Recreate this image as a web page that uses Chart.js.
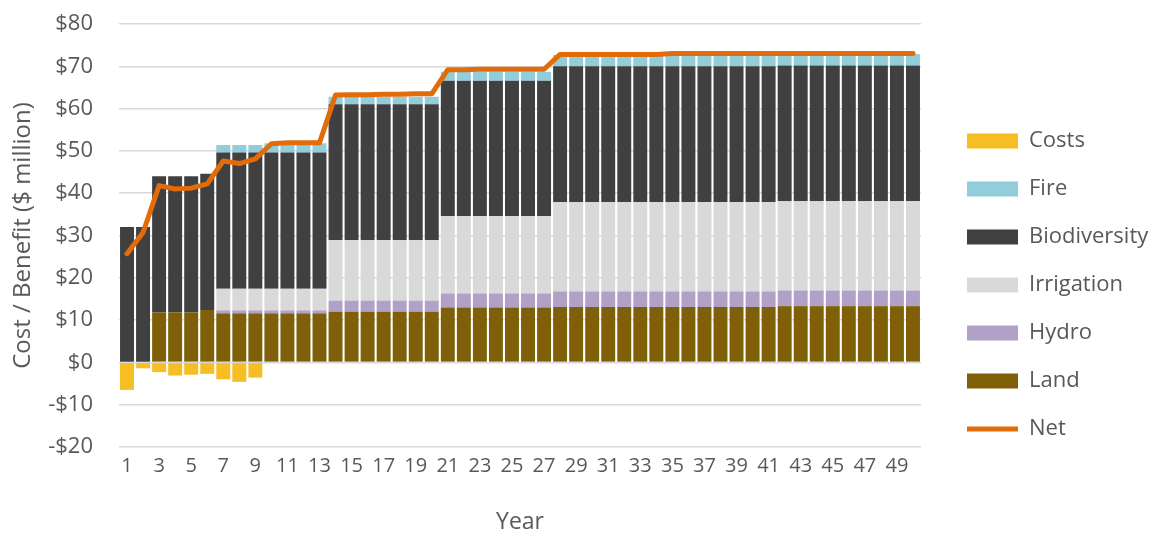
<!DOCTYPE html>
<html>
<head>
<meta charset="utf-8">
<script src="https://cdn.jsdelivr.net/npm/chart.js@4/dist/chart.umd.min.js"></script>
<style>
	html, body { margin: 0; padding: 0; background: #ffffff; }
	#wrap { width: 1153px; height: 534px; position: relative; }
</style>
</head>
<body>
<div id="wrap"><canvas id="chartCostBenefit"></canvas></div>
<script>
// Categories: years 1..50
var years = [1, 2, 3, 4, 5, 6, 7, 8, 9, 10, 11, 12, 13, 14, 15, 16, 17, 18, 19, 20,
	21, 22, 23, 24, 25, 26, 27, 28, 29, 30, 31, 32, 33, 34, 35, 36, 37, 38, 39, 40,
	41, 42, 43, 44, 45, 46, 47, 48, 49, 50];

// Series values ($ million)
var costs = [-6.5, -1.4, -2.3, -3.1, -2.9, -2.7, -4.0, -4.6, -3.6, 0, 0, 0, 0, 0, 0, 0, 0, 0, 0, 0,
	0, 0, 0, 0, 0, 0, 0, 0, 0, 0, 0, 0, 0, 0, 0, 0, 0, 0, 0, 0,
	0, 0, 0, 0, 0, 0, 0, 0, 0, 0];
var fire = [0, 0, 0, 0, 0, 0, 1.8, 1.8, 1.8, 2.2, 2.2, 2.2, 2.2, 1.8, 1.8, 1.8, 1.8, 1.8, 1.8, 1.8,
	2.1, 2.1, 2.1, 2.1, 2.1, 2.1, 2.1, 2.7, 2.7, 2.7, 2.7, 2.7, 2.7, 2.7, 2.7, 2.7, 2.7, 2.7, 2.7, 2.7,
	2.7, 2.7, 2.7, 2.7, 2.7, 2.7, 2.7, 2.7, 2.7, 2.7];
var biodiversity = [32.0, 32.0, 32.2, 32.2, 32.2, 32.2, 32.2, 32.2, 32.2, 32.2, 32.2, 32.2, 32.2, 32.1, 32.1, 32.1, 32.1, 32.1, 32.1, 32.1,
	32.0, 32.0, 32.0, 32.0, 32.0, 32.0, 32.0, 32.1, 32.1, 32.1, 32.1, 32.1, 32.1, 32.1, 32.1, 32.1, 32.1, 32.1, 32.1, 32.1,
	32.1, 32.1, 32.1, 32.1, 32.1, 32.1, 32.1, 32.1, 32.1, 32.1];
var irrigation = [0, 0, 0, 0, 0, 0, 5.1, 5.1, 5.1, 5.1, 5.1, 5.1, 5.1, 14.3, 14.3, 14.3, 14.3, 14.3, 14.3, 14.3,
	18.3, 18.3, 18.3, 18.3, 18.3, 18.3, 18.3, 21.1, 21.1, 21.1, 21.1, 21.1, 21.1, 21.1, 21.1, 21.1, 21.1, 21.1, 21.1, 21.1,
	21.1, 21.1, 21.1, 21.1, 21.1, 21.1, 21.1, 21.1, 21.1, 21.1];
var hydro = [0, 0, 0, 0, 0, 0, 0.7, 0.7, 0.7, 0.7, 0.7, 0.7, 0.7, 2.6, 2.6, 2.6, 2.6, 2.6, 2.6, 2.6,
	3.3, 3.3, 3.3, 3.3, 3.3, 3.3, 3.3, 3.7, 3.7, 3.7, 3.7, 3.7, 3.7, 3.7, 3.7, 3.7, 3.7, 3.7, 3.7, 3.7,
	3.7, 3.7, 3.7, 3.7, 3.7, 3.7, 3.7, 3.7, 3.7, 3.7];
var land = [0, 0, 11.8, 11.8, 11.8, 12.4, 11.6, 11.6, 11.6, 11.6, 11.6, 11.6, 11.6, 12.0, 12.0, 12.0, 12.0, 12.0, 12.0, 12.0,
	13.0, 13.0, 13.0, 13.0, 13.0, 13.0, 13.0, 13.1, 13.1, 13.1, 13.1, 13.1, 13.1, 13.1, 13.1, 13.1, 13.1, 13.1, 13.1, 13.1,
	13.1, 13.3, 13.3, 13.3, 13.3, 13.3, 13.3, 13.3, 13.3, 13.3];
var net = [25.7, 30.7, 41.8, 41.0, 41.2, 42.2, 47.6, 47.0, 48.1, 51.7, 51.9, 51.9, 51.9, 63.2, 63.3, 63.3, 63.4, 63.4, 63.5, 63.5,
	69.2, 69.2, 69.3, 69.3, 69.3, 69.3, 69.3, 72.8, 72.8, 72.8, 72.8, 72.8, 72.8, 72.8, 73.0, 73.0, 73.0, 73.0, 73.0, 73.0,
	73.0, 73.0, 73.0, 73.0, 73.0, 73.0, 73.0, 73.0, 73.0, 73.0];

// Y axis tick range
var yMin = -20;
var yMax = 80;
var yStep = 10;

var legendOrder = ['Costs', 'Fire', 'Biodiversity', 'Irrigation', 'Hydro', 'Land', 'Net'];

var textColor = '#595959';
var fontFamily = "'Open Sans', 'Noto Sans', sans-serif";

function barSet(label, data, color) {
	return {
		type: 'bar',
		label: label,
		data: data,
		backgroundColor: color,
		borderWidth: 0,
		stack: 'benefit',
		pointStyle: 'rect',
		barPercentage: 1,
		categoryPercentage: 0.87,
		order: 2
	};
}

var ctx = document.getElementById('chartCostBenefit').getContext('2d');
new Chart(ctx, {
	data: {
		labels: years,
		datasets: [
			barSet('Land', land, '#7f6009'),
			barSet('Hydro', hydro, '#b2a1c7'),
			barSet('Irrigation', irrigation, '#d9d9d9'),
			barSet('Biodiversity', biodiversity, '#404040'),
			barSet('Fire', fire, '#92cddc'),
			barSet('Costs', costs, '#f6be23'),
			{
				type: 'line',
				label: 'Net',
				data: net,
				borderColor: '#e36c0a',
				backgroundColor: '#e36c0a',
				borderWidth: 5,
				borderCapStyle: 'round',
				borderJoinStyle: 'round',
				pointRadius: 0,
				pointHoverRadius: 0,
				pointStyle: 'line',
				tension: 0,
				stack: 'net',
				order: 1
			}
		]
	},
	options: {
		responsive: true,
		maintainAspectRatio: false,
		animation: false,
		layout: {
			padding: { top: 24, right: 0, bottom: 0, left: 0 }
		},
		plugins: {
			legend: {
				display: true,
				position: 'right',
				align: 'center',
				maxWidth: 212,
				// blank title only nudges the legend items down a little
				title: {
					display: true,
					text: ' ',
					font: { size: 10 },
					padding: 0
				},
				labels: {
					usePointStyle: true,
					pointStyleWidth: 51,
					boxHeight: 15,
					padding: 26,
					color: textColor,
					font: { family: fontFamily, size: 22 },
					sort: function(a, b) {
						return legendOrder.indexOf(a.text) - legendOrder.indexOf(b.text);
					}
				}
			},
			tooltip: { enabled: false }
		},
		scales: {
			x: {
				stacked: true,
				grid: { display: false, drawTicks: false },
				border: { display: false },
				afterFit: function(scale) {
					scale.height = 87;
				},
				title: {
					display: true,
					text: 'Year',
					color: textColor,
					font: { family: fontFamily, size: 23, lineHeight: 1 },
					padding: { top: 0, bottom: 0 }
				},
				ticks: {
					autoSkip: false,
					maxRotation: 0,
					minRotation: 0,
					padding: 7,
					color: textColor,
					font: { family: fontFamily, size: 20 },
					callback: function(value, index) {
						return index % 2 === 0 ? String(years[index]) : '';
					}
				}
			},
			y: {
				stacked: true,
				min: yMin,
				max: yMax,
				grid: {
					color: '#d9d9d9',
					lineWidth: 1.5,
					drawTicks: true,
					tickLength: 24,
					tickColor: 'rgba(0,0,0,0)'
				},
				border: { display: false },
				afterFit: function(scale) {
					scale.width = 119;
				},
				title: {
					display: true,
					text: 'Cost / Benefit ($ million)',
					color: textColor,
					font: { family: fontFamily, size: 24 },
					padding: { top: 9, bottom: 0 }
				},
				ticks: {
					stepSize: yStep,
					padding: 2,
					color: textColor,
					font: { family: fontFamily, size: 22 },
					callback: function(value) {
						return value < 0 ? '-$' + Math.abs(value) : '$' + value;
					}
				}
			},
			// empty spacer axis: keeps the gap between plot and legend
			gap: {
				type: 'linear',
				position: 'right',
				display: true,
				grid: { display: false, drawTicks: false },
				border: { display: false },
				ticks: { display: false },
				afterFit: function(scale) {
					scale.width = 20;
				}
			}
		}
	}
});
</script>
</body>
</html>
